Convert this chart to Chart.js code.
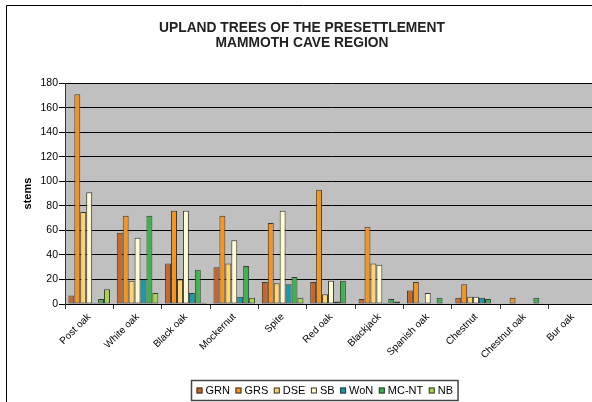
<!DOCTYPE html>
<html>
<head>
<meta charset="utf-8">
<script src="https://cdn.jsdelivr.net/npm/chart.js@4/dist/chart.umd.min.js"></script>
<style>
  html, body { margin: 0; padding: 0; background: #fff; }
  #wrap { width: 592px; height: 402px; overflow: hidden; position: relative; }
  canvas { display: block; }
</style>
</head>
<body>
<div id="wrap"><canvas id="treeChart" width="600" height="402"></canvas></div>
<script>
// upland trees, stems per survey
var categories = ["Post oak", "White oak", "Black oak", "Mockernut", "Spite", "Red oak",
                  "Blackjack", "Spanish oak", "Chestnut", "Chestnut oak", "Bur oak"];
var seriesNames = ["GRN", "GRS", "DSE", "SB", "WoN", "MC-NT", "NB"];

var grnData  = [7, 58, 33, 30, 18, 18, 4, 11, 5, 0, 0];
var grsData  = [171, 72, 76, 72, 66, 93, 63, 18, 16, 5, 0];
var dseData  = [75, 19, 20, 33, 17, 8, 33, 1, 6, 0, 0];
var sbData   = [91, 54, 76, 52, 76, 19, 32, 9, 6, 0, 0];
var wonData  = [1, 20, 9, 6, 16, 2, 1, 0, 5, 0, 0];
var mcntData = [4, 72, 28, 31, 22, 19, 4, 5, 4, 5, 0];
var nbData   = [12, 9, 1, 5, 5, 0, 2, 0, 0, 0, 0];

var yTicks = [0, 20, 40, 60, 80, 100, 120, 140, 160, 180];

var seriesColors = ["#cc6524", "#f7941d", "#ffd36e", "#fffad0", "#0f9db0", "#3bb54a", "#a6d645"];
var seriesValues = [grnData, grsData, dseData, sbData, wonData, mcntData, nbData];

var FONT = '"Liberation Sans", Arial, sans-serif';

// grey plot area + outer frame
var backdrop = {
    id: "backdrop",
    beforeDraw: function (chart) {
        var ctx = chart.ctx, a = chart.chartArea;
        ctx.save();
        ctx.fillStyle = "#fff";
        ctx.fillRect(0, 0, chart.width, chart.height);
        ctx.fillStyle = "#c0c0c0";
        ctx.fillRect(a.left, a.top, a.right - a.left, a.bottom - a.top);
        ctx.strokeStyle = "#000";
        ctx.lineWidth = 1;
        ctx.beginPath();
        ctx.moveTo(6.5, chart.height + 5);
        ctx.lineTo(6.5, 5.5);
        ctx.lineTo(chart.width + 5, 5.5);
        ctx.stroke();
        ctx.restore();
    }
};

// boxed legend under the axis
var boxLegend = {
    id: "boxLegend",
    afterDraw: function (chart) {
        var ctx = chart.ctx;
        var sets = chart.data.datasets;
        ctx.save();
        ctx.font = "11px " + FONT;
        var sq = 6, gap = 3, itemGap = 5.5, pad = 5;
        var total = 0;
        sets.forEach(function (d, i) {
            total += sq + gap + ctx.measureText(d.label).width + (i < sets.length - 1 ? itemGap : 0);
        });
        var w = total + pad * 2, h = 20;
        var cx = 324, top = 380.5;
        var x = Math.round(cx - w / 2) + 0.5;
        ctx.fillStyle = "#fff";
        ctx.fillRect(x, top, w, h);
        ctx.strokeStyle = "#444";
        ctx.lineWidth = 1.5;
        ctx.strokeRect(x, top, w, h);
        var cy = top + h / 2;
        var px = x + pad;
        ctx.textBaseline = "middle";
        ctx.lineWidth = 1;
        sets.forEach(function (d) {
            ctx.fillStyle = d.backgroundColor;
            ctx.fillRect(px, cy - sq / 2, sq, sq);
            ctx.strokeStyle = "#333";
            ctx.strokeRect(px + 0.5, cy - sq / 2 + 0.5, sq - 1, sq - 1);
            px += sq + gap;
            ctx.fillStyle = "#000";
            ctx.fillText(d.label, px, cy + 0.5);
            px += ctx.measureText(d.label).width + itemGap;
        });
        ctx.restore();
    }
};

var datasets = seriesNames.map(function (name, i) {
    return {
        label: name,
        data: seriesValues[i],
        backgroundColor: seriesColors[i],
        borderColor: "#3a3a3a",
        borderWidth: 1,
        borderSkipped: false,
        categoryPercentage: 0.86,
        barPercentage: 1.0
    };
});

new Chart(document.getElementById("treeChart").getContext("2d"), {
    type: "bar",
    data: { labels: categories, datasets: datasets },
    options: {
        responsive: false,
        animation: false,
        devicePixelRatio: 1,
        layout: { padding: { left: 7, right: 3, top: 7, bottom: 30 } },
        plugins: {
            legend: { display: false },
            tooltip: { enabled: false },
            title: {
                display: true,
                text: ["UPLAND TREES OF THE PRESETTLEMENT", "MAMMOTH CAVE REGION"],
                color: "#222",
                font: { family: FONT, size: 13.8, weight: "bold", lineHeight: 1.09 },
                padding: { top: 14, bottom: 32 }
            }
        },
        scales: {
            x: {
                grid: { display: true, drawOnChartArea: false, drawTicks: true, tickLength: 5, color: "#333", offset: true },
                border: { color: "#000", width: 1 },
                ticks: {
                    color: "#000",
                    font: { family: FONT, size: 10 },
                    minRotation: 45,
                    maxRotation: 45,
                    autoSkip: false,
                    padding: 2
                },
                afterFit: function (s) { s.height = 68; }
            },
            y: {
                min: 0,
                max: 180,
                afterBuildTicks: function (s) { s.ticks = yTicks.map(function (v) { return { value: v }; }); },
                grid: { color: "#000", lineWidth: 1, tickLength: 6 },
                border: { color: "#333", width: 1 },
                ticks: { color: "#000", font: { family: FONT, size: 10.5 }, padding: 1 },
                title: {
                    display: true,
                    text: "stems",
                    color: "#000",
                    font: { family: FONT, size: 11, weight: "bold" },
                    padding: { top: 14, bottom: 0 }
                },
                afterFit: function (s) { s.width = 58; }
            }
        }
    },
    plugins: [backdrop, boxLegend]
});
</script>
</body>
</html>
